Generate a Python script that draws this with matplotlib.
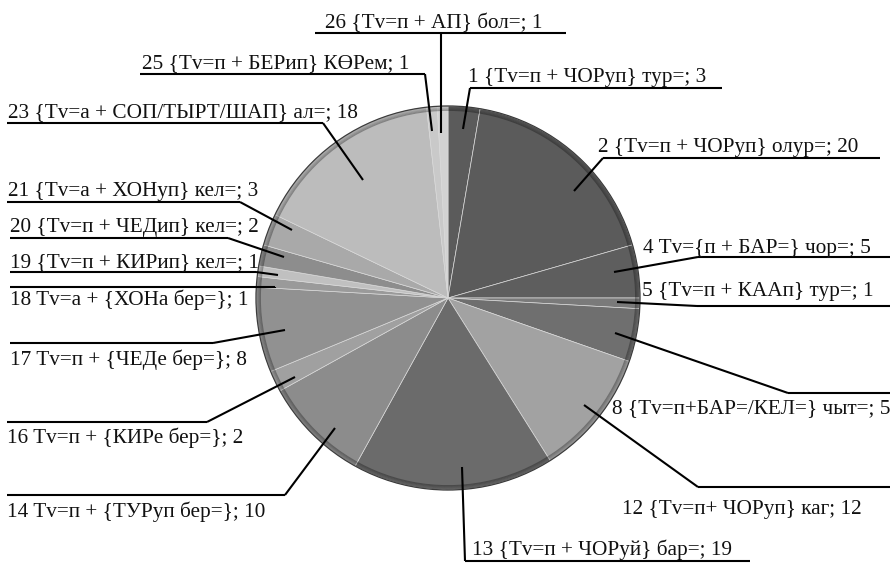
import matplotlib
matplotlib.use("Agg")
import matplotlib.pyplot as plt
from matplotlib.patches import Wedge, Circle
import numpy as np

# Categories (construction types) and counts
categories = [
    "1 {Tv=п + ЧОРуп} тур=",
    "2 {Tv=п + ЧОРуп} олур=",
    "4 Tv={п + БАР=} чор=",
    "5 {Tv=п + КААп} тур=",
    "8 {Tv=п+БАР=/КЕЛ=} чыт=",
    "12 {Tv=п+ ЧОРуп} каг",
    "13 {Tv=п + ЧОРуй} бар=",
    "14 Tv=п + {ТУРуп бер=}",
    "16 Tv=п + {КИРе бер=}",
    "17 Tv=п + {ЧЕДе бер=}",
    "18 Tv=a + {ХОНа бер=}",
    "19 {Tv=п + КИРип} кел=",
    "20 {Tv=п + ЧЕДип} кел=",
    "21 {Tv=a + ХОНуп} кел=",
    "23 {Tv=a + СОП/ТЫРТ/ШАП} ал=",
    "25 {Tv=п + БЕРип} КӨРем",
    "26 {Tv=п + АП} бол=",
]
counts = [3, 20, 5, 1, 5, 12, 19, 10, 2, 8, 1, 1, 2, 3, 18, 1, 1]

# Grey shades of the slices
shades = ["#5b5b5b", "#5b5b5b", "#5e5e5e", "#7a7a7a", "#6f6f6f", "#a2a2a2",
          "#6b6b6b", "#8c8c8c", "#a0a0a0", "#919191", "#9a9a9a", "#c0c0c0",
          "#8d8d8d", "#a9a9a9", "#bcbcbc", "#c9c9c9", "#d2d2d2"]

W, H = 890, 565
fig = plt.figure(figsize=(W / 100, H / 100), dpi=100)
ax = fig.add_axes([0, 0, 1, 1])


def Y(y):
    return H - y


cx, cy, R = 448, 298, 192

ax.pie(counts, colors=shades, startangle=90, counterclock=False,
       center=(cx, Y(cy)), radius=R, frame=True,
       wedgeprops=dict(edgecolor="#d8d8d8", linewidth=0.5))
ax.set_xlim(0, W)
ax.set_ylim(0, H)
ax.axis("off")

# bevelled rim
for i, a in enumerate(np.linspace(0.04, 0.30, 6)):
    ax.add_patch(Wedge((cx, Y(cy)), R - i * 0.8, 0, 360, width=0.9,
                       facecolor="black", edgecolor="none", alpha=a))
ax.add_patch(Circle((cx, Y(cy)), R, fill=False, edgecolor="#3c3c3c", lw=0.9))

# label layout: text x, text baseline y, underline x0, x1, y, knee x, leader end
layout = [
    (468, 82, 470, 722, 88, 470, 463, 129),
    (598, 152, 603, 880, 158, 603, 574, 191),
    (643, 253, 698, 890, 257, 698, 614, 272),
    (642, 296, 697, 890, 306, 697, 617, 302),
    (612, 413, 788, 890, 393, 788, 615, 333),
    (622, 514, 698, 890, 487, 698, 584, 405),
    (472, 555, 465, 750, 561, 465, 462, 467),
    (7, 517, 7, 285, 495, 285, 335, 428),
    (7, 443, 7, 207, 422, 207, 295, 377),
    (10, 365, 10, 213, 343, 213, 285, 330),
    (10, 305, 10, 275, 287, 275, 275, 288),
    (10, 267, 10, 256, 272, 256, 278, 275),
    (10, 232, 10, 228, 238, 228, 284, 257),
    (8, 196, 7, 240, 202, 240, 292, 230),
    (8, 117, 7, 323, 123, 323, 363, 180),
    (142, 68, 140, 425, 74, 425, 432, 131),
    (325, 28, 315, 566, 33, 441, 441, 133),
]

font = dict(family="Liberation Serif", fontsize=15.3, color="#111111")
for name, n, (tx, ty, x0, x1, ly, kx, ex, ey) in zip(categories, counts, layout):
    ax.text(tx, Y(ty), f"{name}; {n}", ha="left", va="baseline", **font)
    ax.plot([x0, x1], [Y(ly), Y(ly)], color="black", lw=1.5,
            solid_capstyle="butt")
    ax.plot([kx, ex], [Y(ly), Y(ey)], color="black", lw=1.5,
            solid_capstyle="butt")

fig.savefig("out.png", dpi=100, facecolor="white")
